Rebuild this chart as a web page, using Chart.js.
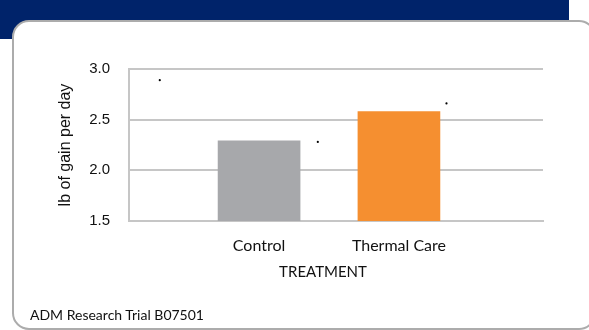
<!DOCTYPE html>
<html>
<head>
<meta charset="utf-8">
<script src="https://cdn.jsdelivr.net/npm/chart.js@4"></script>
<style>
  html, body { margin: 0; padding: 0; background: #fff; }
  body { width: 589px; height: 330px; position: relative; overflow: hidden; }
  #navy { position: absolute; left: 0; top: 0; width: 569px; height: 39px; background: #00236a; }
  #box { position: absolute; left: 12px; top: 20px; width: 580px; height: 306px; background: #fff;
         border: 2px solid #acacac; border-radius: 17px; }
  #wrap { position: absolute; left: 0; top: 0; width: 589px; height: 330px; }
  #footer { position: absolute; left: 30px; top: 306px; font-family: Lato, "Open Sans", sans-serif;
            font-size: 14px; color: #111; white-space: nowrap; }
</style>
</head>
<body>
<div id="navy"></div>
<div id="box"></div>
<div id="wrap"><canvas id="c" width="589" height="330"></canvas></div>
<div id="footer">ADM Research Trial B07501</div>
<script>
// ---- data ----
const categories = ["Control", "Thermal Care"];
const gainValues = [2.29, 2.58];
const yTicks = [1.5, 2.0, 2.5, 3.0];
const barColors = ["#a7a8ab", "#f58f30"];
const stray = [ {x: -0.71, y: 2.89}, {x: 0.42, y: 2.28}, {x: 1.34, y: 2.66} ];
const xAxisTitle = "TREATMENT";
const yAxisTitle = "lb of gain per day";

const barData = categories.map((c, i) => ({x: i, y: gainValues[i]}));

const xTitlePlugin = {
  id: 'xTitle',
  afterDraw(chart) {
    const xs = chart.scales.x;
    const ctx = chart.ctx;
    const mid = (xs.getPixelForValue(0) + xs.getPixelForValue(categories.length - 1)) / 2 - 6;
    ctx.save();
    ctx.font = '15px Lato, "Open Sans", sans-serif';
    ctx.fillStyle = '#111';
    ctx.textAlign = 'center';
    ctx.textBaseline = 'middle';
    ctx.fillText(xAxisTitle, mid, xs.top + 51);
    ctx.restore();
  }
};

new Chart(document.getElementById('c'), {
  data: {
    datasets: [
      {
        type: 'bar',
        data: barData,
        backgroundColor: barColors,
        barThickness: 82,
        borderWidth: 0,
        order: 2
      },
      {
        type: 'scatter',
        data: stray,
        pointRadius: 1.1,
        pointBackgroundColor: '#000',
        pointBorderWidth: 0,
        order: 1
      }
    ]
  },
  options: {
    responsive: false,
    animation: false,
    devicePixelRatio: 1,
    layout: { padding: { left: 0, right: 46, top: 69, bottom: 0 } },
    plugins: { legend: { display: false }, tooltip: { enabled: false } },
    scales: {
      x: {
        type: 'linear',
        offset: false,
        min: -0.93,
        max: 2.03,
        afterBuildTicks(scale) { scale.ticks = categories.map((c, i) => ({value: i})); },
        afterFit(scale) { scale.height = 109; },
        grid: { display: false, drawTicks: false },
        border: { display: true, color: '#c6c6c6', width: 2 },
        ticks: {
          padding: 15,
          autoSkip: false,
          maxRotation: 0,
          color: '#111',
          font: { family: 'Lato, "Open Sans", sans-serif', size: 16 },
          callback: (v) => categories[v] ?? ''
        }
      },
      y: {
        min: 1.5,
        max: 3.0,
        afterBuildTicks(scale) { scale.ticks = yTicks.map(v => ({value: v})); },
        afterFit(scale) { scale.width = 129; },
        grid: { color: '#c6c6c6', lineWidth: 2, drawTicks: false },
        border: { display: true, color: '#c6c6c6', width: 2 },
        ticks: {
          padding: 19,
          color: '#111',
          font: { family: '"Liberation Sans", Arial, sans-serif', size: 15 },
          callback: (v) => Number(v).toFixed(1)
        },
        title: {
          display: true,
          text: yAxisTitle,
          color: '#111',
          padding: { top: 56, bottom: 0 },
          font: { family: '"Liberation Sans", Arial, sans-serif', size: 16, lineHeight: 1.2 }
        }
      }
    }
  },
  plugins: [xTitlePlugin]
});
</script>
</body>
</html>
